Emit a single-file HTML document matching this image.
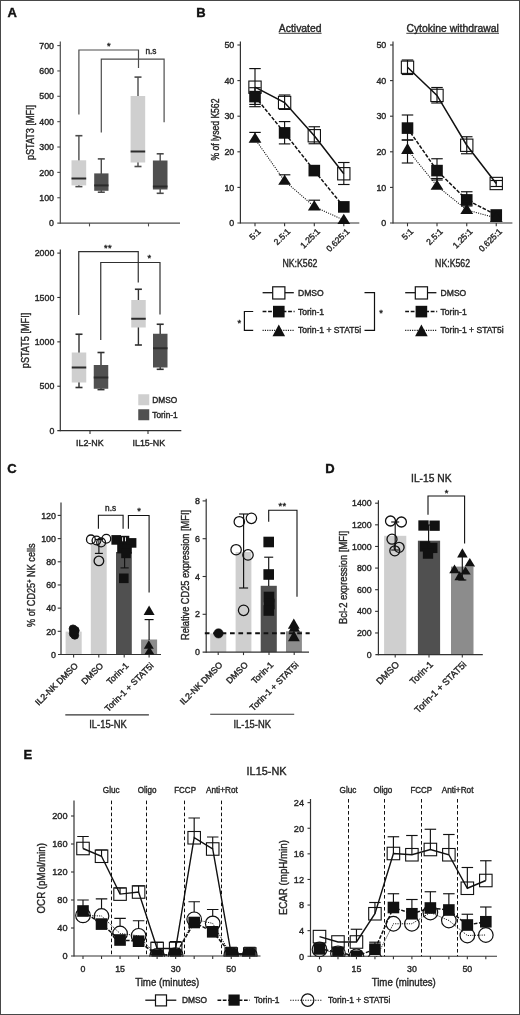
<!DOCTYPE html>
<html lang="en"><head><meta charset="utf-8"><title>Figure</title>
<style>html,body{margin:0;padding:0;background:#fff;}svg{display:block;will-change:transform;}text{font-family:"Liberation Sans", sans-serif;stroke-width:0.38px;paint-order:stroke;}</style></head><body>
<svg width="520" height="1015" viewBox="0 0 520 1015">
<rect x="0" y="0" width="520" height="1015" fill="#fff"/>
<g id="panelA">
<text x="7.50" y="16.60" font-size="13" text-anchor="start" font-weight="bold" fill="#111" stroke="#111">A</text>
<line x1="60.30" y1="41.50" x2="60.30" y2="223.70" stroke="#4c4c4c" stroke-width="1.2" stroke-linecap="butt"/>
<line x1="57.30" y1="223.10" x2="180.00" y2="223.10" stroke="#4c4c4c" stroke-width="1.2" stroke-linecap="butt"/>
<text x="54.00" y="226.25" font-size="8.8" text-anchor="end" fill="#262626" stroke="#262626">0</text>
<line x1="57.30" y1="197.74" x2="60.30" y2="197.74" stroke="#4c4c4c" stroke-width="1.1" stroke-linecap="butt"/>
<text x="54.00" y="200.89" font-size="8.8" text-anchor="end" fill="#262626" stroke="#262626">100</text>
<line x1="57.30" y1="172.38" x2="60.30" y2="172.38" stroke="#4c4c4c" stroke-width="1.1" stroke-linecap="butt"/>
<text x="54.00" y="175.53" font-size="8.8" text-anchor="end" fill="#262626" stroke="#262626">200</text>
<line x1="57.30" y1="147.02" x2="60.30" y2="147.02" stroke="#4c4c4c" stroke-width="1.1" stroke-linecap="butt"/>
<text x="54.00" y="150.17" font-size="8.8" text-anchor="end" fill="#262626" stroke="#262626">300</text>
<line x1="57.30" y1="121.66" x2="60.30" y2="121.66" stroke="#4c4c4c" stroke-width="1.1" stroke-linecap="butt"/>
<text x="54.00" y="124.81" font-size="8.8" text-anchor="end" fill="#262626" stroke="#262626">400</text>
<line x1="57.30" y1="96.30" x2="60.30" y2="96.30" stroke="#4c4c4c" stroke-width="1.1" stroke-linecap="butt"/>
<text x="54.00" y="99.45" font-size="8.8" text-anchor="end" fill="#262626" stroke="#262626">500</text>
<line x1="57.30" y1="70.94" x2="60.30" y2="70.94" stroke="#4c4c4c" stroke-width="1.1" stroke-linecap="butt"/>
<text x="54.00" y="74.09" font-size="8.8" text-anchor="end" fill="#262626" stroke="#262626">600</text>
<line x1="57.30" y1="45.58" x2="60.30" y2="45.58" stroke="#4c4c4c" stroke-width="1.1" stroke-linecap="butt"/>
<text x="54.00" y="48.73" font-size="8.8" text-anchor="end" fill="#262626" stroke="#262626">700</text>
<line x1="89.50" y1="223.10" x2="89.50" y2="226.40" stroke="#4c4c4c" stroke-width="1.1" stroke-linecap="butt"/>
<line x1="148.50" y1="223.10" x2="148.50" y2="226.40" stroke="#4c4c4c" stroke-width="1.1" stroke-linecap="butt"/>
<text x="0" y="0" font-size="10.5" text-anchor="middle" fill="#262626" stroke="#262626" transform="translate(33.60 132.50) rotate(-90)" textLength="55.20" lengthAdjust="spacingAndGlyphs">pSTAT3 [MFI]</text>
<line x1="78.90" y1="135.70" x2="78.90" y2="186.60" stroke="#4c4c4c" stroke-width="1.4" stroke-linecap="butt"/>
<line x1="75.40" y1="135.70" x2="82.40" y2="135.70" stroke="#4c4c4c" stroke-width="1.6" stroke-linecap="butt"/>
<line x1="75.40" y1="186.60" x2="82.40" y2="186.60" stroke="#4c4c4c" stroke-width="1.6" stroke-linecap="butt"/>
<rect x="71.50" y="160.30" width="14.70" height="25.10" fill="#cfcfcf" stroke="none" stroke-width="1"/>
<line x1="71.50" y1="178.50" x2="86.20" y2="178.50" stroke="#2c2c2c" stroke-width="2.0" stroke-linecap="butt"/>
<line x1="101.30" y1="158.90" x2="101.30" y2="192.20" stroke="#4c4c4c" stroke-width="1.4" stroke-linecap="butt"/>
<line x1="97.80" y1="158.90" x2="104.80" y2="158.90" stroke="#4c4c4c" stroke-width="1.6" stroke-linecap="butt"/>
<line x1="97.80" y1="192.20" x2="104.80" y2="192.20" stroke="#4c4c4c" stroke-width="1.6" stroke-linecap="butt"/>
<rect x="94.20" y="173.40" width="14.30" height="17.40" fill="#505050" stroke="none" stroke-width="1"/>
<line x1="94.20" y1="185.40" x2="108.50" y2="185.40" stroke="#2c2c2c" stroke-width="2.0" stroke-linecap="butt"/>
<line x1="138.00" y1="77.10" x2="138.00" y2="166.50" stroke="#4c4c4c" stroke-width="1.4" stroke-linecap="butt"/>
<line x1="134.50" y1="77.10" x2="141.50" y2="77.10" stroke="#4c4c4c" stroke-width="1.6" stroke-linecap="butt"/>
<line x1="134.50" y1="166.50" x2="141.50" y2="166.50" stroke="#4c4c4c" stroke-width="1.6" stroke-linecap="butt"/>
<rect x="130.60" y="96.00" width="14.60" height="66.50" fill="#cfcfcf" stroke="none" stroke-width="1"/>
<line x1="130.60" y1="151.50" x2="145.20" y2="151.50" stroke="#2c2c2c" stroke-width="2.0" stroke-linecap="butt"/>
<line x1="160.20" y1="153.80" x2="160.20" y2="193.30" stroke="#4c4c4c" stroke-width="1.4" stroke-linecap="butt"/>
<line x1="156.70" y1="153.80" x2="163.70" y2="153.80" stroke="#4c4c4c" stroke-width="1.6" stroke-linecap="butt"/>
<line x1="156.70" y1="193.30" x2="163.70" y2="193.30" stroke="#4c4c4c" stroke-width="1.6" stroke-linecap="butt"/>
<rect x="152.90" y="160.50" width="14.60" height="29.00" fill="#505050" stroke="none" stroke-width="1"/>
<line x1="152.90" y1="186.50" x2="167.50" y2="186.50" stroke="#2c2c2c" stroke-width="2.0" stroke-linecap="butt"/>
<polyline points="78.90,114.60 78.90,50.00 138.50,50.00 138.50,67.90" fill="none" stroke="#4c4c4c" stroke-width="1.2" stroke-linejoin="miter"/>
<polyline points="101.30,132.60 101.30,59.10 164.10,59.10 164.10,122.30" fill="none" stroke="#4c4c4c" stroke-width="1.2" stroke-linejoin="miter"/>
<text x="108.80" y="49.04" font-size="9.3" text-anchor="middle" fill="#262626" stroke="#262626" style="stroke-width:0.4px">*</text>
<text x="145.40" y="53.90" font-size="8.3" text-anchor="start" fill="#262626" stroke="#262626">n.s</text>
<line x1="60.30" y1="249.60" x2="60.30" y2="431.20" stroke="#303030" stroke-width="1.2" stroke-linecap="butt"/>
<line x1="57.30" y1="430.60" x2="181.30" y2="430.60" stroke="#303030" stroke-width="1.2" stroke-linecap="butt"/>
<text x="54.30" y="433.75" font-size="8.8" text-anchor="end" fill="#262626" stroke="#262626">0</text>
<line x1="57.30" y1="386.23" x2="60.30" y2="386.23" stroke="#303030" stroke-width="1.1" stroke-linecap="butt"/>
<text x="54.30" y="389.38" font-size="8.8" text-anchor="end" fill="#262626" stroke="#262626">500</text>
<line x1="57.30" y1="341.85" x2="60.30" y2="341.85" stroke="#303030" stroke-width="1.1" stroke-linecap="butt"/>
<text x="54.30" y="345.00" font-size="8.8" text-anchor="end" fill="#262626" stroke="#262626">1000</text>
<line x1="57.30" y1="297.48" x2="60.30" y2="297.48" stroke="#303030" stroke-width="1.1" stroke-linecap="butt"/>
<text x="54.30" y="300.63" font-size="8.8" text-anchor="end" fill="#262626" stroke="#262626">1500</text>
<line x1="57.30" y1="253.10" x2="60.30" y2="253.10" stroke="#303030" stroke-width="1.1" stroke-linecap="butt"/>
<text x="54.30" y="256.25" font-size="8.8" text-anchor="end" fill="#262626" stroke="#262626">2000</text>
<line x1="90.00" y1="430.60" x2="90.00" y2="433.90" stroke="#303030" stroke-width="1.1" stroke-linecap="butt"/>
<line x1="148.00" y1="430.60" x2="148.00" y2="433.90" stroke="#303030" stroke-width="1.1" stroke-linecap="butt"/>
<text x="0" y="0" font-size="10.5" text-anchor="middle" fill="#262626" stroke="#262626" transform="translate(28.70 340.50) rotate(-90)" textLength="55.40" lengthAdjust="spacingAndGlyphs">pSTAT5 [MFI]</text>
<line x1="79.00" y1="334.25" x2="79.00" y2="387.50" stroke="#303030" stroke-width="1.4" stroke-linecap="butt"/>
<line x1="75.50" y1="334.25" x2="82.50" y2="334.25" stroke="#303030" stroke-width="1.6" stroke-linecap="butt"/>
<line x1="75.50" y1="387.50" x2="82.50" y2="387.50" stroke="#303030" stroke-width="1.6" stroke-linecap="butt"/>
<rect x="71.75" y="352.50" width="14.50" height="30.00" fill="#cfcfcf" stroke="none" stroke-width="1"/>
<line x1="71.75" y1="367.50" x2="86.25" y2="367.50" stroke="#2c2c2c" stroke-width="2.0" stroke-linecap="butt"/>
<line x1="101.00" y1="352.50" x2="101.00" y2="389.60" stroke="#303030" stroke-width="1.4" stroke-linecap="butt"/>
<line x1="97.50" y1="352.50" x2="104.50" y2="352.50" stroke="#303030" stroke-width="1.6" stroke-linecap="butt"/>
<line x1="97.50" y1="389.60" x2="104.50" y2="389.60" stroke="#303030" stroke-width="1.6" stroke-linecap="butt"/>
<rect x="93.75" y="365.00" width="14.50" height="23.75" fill="#505050" stroke="none" stroke-width="1"/>
<line x1="93.75" y1="377.50" x2="108.25" y2="377.50" stroke="#2c2c2c" stroke-width="2.0" stroke-linecap="butt"/>
<line x1="138.40" y1="289.25" x2="138.40" y2="345.00" stroke="#303030" stroke-width="1.4" stroke-linecap="butt"/>
<line x1="134.90" y1="289.25" x2="141.90" y2="289.25" stroke="#303030" stroke-width="1.6" stroke-linecap="butt"/>
<line x1="134.90" y1="345.00" x2="141.90" y2="345.00" stroke="#303030" stroke-width="1.6" stroke-linecap="butt"/>
<rect x="131.25" y="300.00" width="14.50" height="27.50" fill="#cfcfcf" stroke="none" stroke-width="1"/>
<line x1="131.25" y1="318.75" x2="145.75" y2="318.75" stroke="#2c2c2c" stroke-width="2.0" stroke-linecap="butt"/>
<line x1="160.20" y1="324.25" x2="160.20" y2="369.30" stroke="#303030" stroke-width="1.4" stroke-linecap="butt"/>
<line x1="156.70" y1="324.25" x2="163.70" y2="324.25" stroke="#303030" stroke-width="1.6" stroke-linecap="butt"/>
<line x1="156.70" y1="369.30" x2="163.70" y2="369.30" stroke="#303030" stroke-width="1.6" stroke-linecap="butt"/>
<rect x="153.00" y="333.75" width="14.50" height="33.75" fill="#505050" stroke="none" stroke-width="1"/>
<line x1="153.00" y1="348.25" x2="167.50" y2="348.25" stroke="#2c2c2c" stroke-width="2.0" stroke-linecap="butt"/>
<polyline points="78.75,315.00 78.75,251.60 138.25,251.60 138.25,282.50" fill="none" stroke="#303030" stroke-width="1.2" stroke-linejoin="miter"/>
<polyline points="100.75,340.00 100.75,262.50 160.00,262.50 160.00,314.50" fill="none" stroke="#303030" stroke-width="1.2" stroke-linejoin="miter"/>
<text x="108.07" y="250.54" font-size="9.3" text-anchor="middle" fill="#262626" stroke="#262626" style="stroke-width:0.4px" letter-spacing="0.45">**</text>
<text x="149.30" y="261.34" font-size="9.3" text-anchor="middle" fill="#262626" stroke="#262626" style="stroke-width:0.4px">*</text>
<rect x="138.25" y="394.25" width="11.00" height="11.00" fill="#cfcfcf" stroke="none" stroke-width="1"/>
<rect x="138.25" y="409.25" width="11.00" height="11.00" fill="#505050" stroke="none" stroke-width="1"/>
<text x="152.30" y="402.57" font-size="8.3" text-anchor="start" fill="#262626" stroke="#262626">DMSO</text>
<text x="152.30" y="417.57" font-size="8.3" text-anchor="start" fill="#262626" stroke="#262626">Torin-1</text>
<text x="89.80" y="445.69" font-size="8.9" text-anchor="middle" fill="#262626" stroke="#262626">IL2-NK</text>
<text x="148.80" y="445.69" font-size="8.9" text-anchor="middle" fill="#262626" stroke="#262626">IL15-NK</text>
</g>
<g id="panelB">
<text x="196.30" y="16.70" font-size="13" text-anchor="start" font-weight="bold" fill="#111" stroke="#111">B</text>
<text x="300.20" y="31.80" font-size="10.4" text-anchor="middle" fill="#262626" stroke="#262626">Activated</text>
<line x1="278.80" y1="33.30" x2="321.60" y2="33.30" stroke="#262626" stroke-width="0.9" stroke-linecap="butt"/>
<text x="452.60" y="31.80" font-size="10.4" text-anchor="middle" fill="#262626" stroke="#262626">Cytokine withdrawal</text>
<line x1="406.30" y1="33.30" x2="499.00" y2="33.30" stroke="#262626" stroke-width="0.9" stroke-linecap="butt"/>
<text x="0" y="0" font-size="10" text-anchor="middle" fill="#262626" stroke="#262626" transform="translate(218.70 129.60) rotate(-90)" textLength="62.00" lengthAdjust="spacingAndGlyphs">% of lysed K562</text>
<line x1="240.40" y1="41.50" x2="240.40" y2="223.60" stroke="#333" stroke-width="1.2" stroke-linecap="butt"/>
<line x1="237.40" y1="223.00" x2="359.30" y2="223.00" stroke="#333" stroke-width="1.2" stroke-linecap="butt"/>
<text x="234.30" y="226.19" font-size="8.9" text-anchor="end" fill="#262626" stroke="#262626">0</text>
<line x1="237.40" y1="187.40" x2="240.40" y2="187.40" stroke="#333" stroke-width="1.1" stroke-linecap="butt"/>
<text x="234.30" y="190.59" font-size="8.9" text-anchor="end" fill="#262626" stroke="#262626">10</text>
<line x1="237.40" y1="151.80" x2="240.40" y2="151.80" stroke="#333" stroke-width="1.1" stroke-linecap="butt"/>
<text x="234.30" y="154.99" font-size="8.9" text-anchor="end" fill="#262626" stroke="#262626">20</text>
<line x1="237.40" y1="116.20" x2="240.40" y2="116.20" stroke="#333" stroke-width="1.1" stroke-linecap="butt"/>
<text x="234.30" y="119.39" font-size="8.9" text-anchor="end" fill="#262626" stroke="#262626">30</text>
<line x1="237.40" y1="80.60" x2="240.40" y2="80.60" stroke="#333" stroke-width="1.1" stroke-linecap="butt"/>
<text x="234.30" y="83.79" font-size="8.9" text-anchor="end" fill="#262626" stroke="#262626">40</text>
<line x1="237.40" y1="45.00" x2="240.40" y2="45.00" stroke="#333" stroke-width="1.1" stroke-linecap="butt"/>
<text x="234.30" y="48.19" font-size="8.9" text-anchor="end" fill="#262626" stroke="#262626">50</text>
<line x1="255.00" y1="223.00" x2="255.00" y2="226.30" stroke="#333" stroke-width="1.1" stroke-linecap="butt"/>
<line x1="284.60" y1="223.00" x2="284.60" y2="226.30" stroke="#333" stroke-width="1.1" stroke-linecap="butt"/>
<line x1="314.30" y1="223.00" x2="314.30" y2="226.30" stroke="#333" stroke-width="1.1" stroke-linecap="butt"/>
<line x1="343.80" y1="223.00" x2="343.80" y2="226.30" stroke="#333" stroke-width="1.1" stroke-linecap="butt"/>
<text x="261.30" y="232.00" font-size="8.6" text-anchor="end" fill="#262626" stroke="#262626" transform="rotate(-45 261.30 232.00)">5:1</text>
<text x="290.90" y="232.00" font-size="8.6" text-anchor="end" fill="#262626" stroke="#262626" transform="rotate(-45 290.90 232.00)">2.5:1</text>
<text x="320.60" y="232.00" font-size="8.6" text-anchor="end" fill="#262626" stroke="#262626" transform="rotate(-45 320.60 232.00)">1.25:1</text>
<text x="350.10" y="232.00" font-size="8.6" text-anchor="end" fill="#262626" stroke="#262626" transform="rotate(-45 350.10 232.00)">0.625:1</text>
<line x1="255.00" y1="68.60" x2="255.00" y2="104.40" stroke="#111" stroke-width="1.15" stroke-linecap="butt"/>
<line x1="249.25" y1="68.60" x2="260.75" y2="68.60" stroke="#111" stroke-width="1.15" stroke-linecap="butt"/>
<line x1="249.25" y1="104.40" x2="260.75" y2="104.40" stroke="#111" stroke-width="1.15" stroke-linecap="butt"/>
<line x1="284.60" y1="95.00" x2="284.60" y2="109.40" stroke="#111" stroke-width="1.15" stroke-linecap="butt"/>
<line x1="278.85" y1="95.00" x2="290.35" y2="95.00" stroke="#111" stroke-width="1.15" stroke-linecap="butt"/>
<line x1="278.85" y1="109.40" x2="290.35" y2="109.40" stroke="#111" stroke-width="1.15" stroke-linecap="butt"/>
<line x1="314.30" y1="126.75" x2="314.30" y2="143.75" stroke="#111" stroke-width="1.15" stroke-linecap="butt"/>
<line x1="308.55" y1="126.75" x2="320.05" y2="126.75" stroke="#111" stroke-width="1.15" stroke-linecap="butt"/>
<line x1="308.55" y1="143.75" x2="320.05" y2="143.75" stroke="#111" stroke-width="1.15" stroke-linecap="butt"/>
<line x1="343.80" y1="162.50" x2="343.80" y2="184.50" stroke="#111" stroke-width="1.15" stroke-linecap="butt"/>
<line x1="338.05" y1="162.50" x2="349.55" y2="162.50" stroke="#111" stroke-width="1.15" stroke-linecap="butt"/>
<line x1="338.05" y1="184.50" x2="349.55" y2="184.50" stroke="#111" stroke-width="1.15" stroke-linecap="butt"/>
<polyline points="255.00,87.20 284.60,102.50 314.30,135.75 343.80,173.75" fill="none" stroke="#111" stroke-width="1.5" stroke-linejoin="miter"/>
<rect x="248.85" y="81.05" width="12.30" height="12.30" fill="none" stroke="#111" stroke-width="1.1"/>
<rect x="278.45" y="96.35" width="12.30" height="12.30" fill="none" stroke="#111" stroke-width="1.1"/>
<rect x="308.15" y="129.60" width="12.30" height="12.30" fill="none" stroke="#111" stroke-width="1.1"/>
<rect x="337.65" y="167.60" width="12.30" height="12.30" fill="none" stroke="#111" stroke-width="1.1"/>
<line x1="255.00" y1="87.70" x2="255.00" y2="106.70" stroke="#111" stroke-width="1.15" stroke-linecap="butt"/>
<line x1="249.25" y1="87.70" x2="260.75" y2="87.70" stroke="#111" stroke-width="1.15" stroke-linecap="butt"/>
<line x1="249.25" y1="106.70" x2="260.75" y2="106.70" stroke="#111" stroke-width="1.15" stroke-linecap="butt"/>
<line x1="284.60" y1="121.60" x2="284.60" y2="143.90" stroke="#111" stroke-width="1.15" stroke-linecap="butt"/>
<line x1="278.85" y1="121.60" x2="290.35" y2="121.60" stroke="#111" stroke-width="1.15" stroke-linecap="butt"/>
<line x1="278.85" y1="143.90" x2="290.35" y2="143.90" stroke="#111" stroke-width="1.15" stroke-linecap="butt"/>
<polyline points="255.00,96.60 284.60,132.90 314.30,170.60 343.80,206.90" fill="none" stroke="#111" stroke-width="1.5" stroke-dasharray="3.7 1.6" stroke-linejoin="miter"/>
<rect x="249.20" y="90.80" width="11.60" height="11.60" fill="#111" stroke="none" stroke-width="1"/>
<rect x="278.80" y="127.10" width="11.60" height="11.60" fill="#111" stroke="none" stroke-width="1"/>
<rect x="308.50" y="164.80" width="11.60" height="11.60" fill="#111" stroke="none" stroke-width="1"/>
<rect x="338.00" y="201.10" width="11.60" height="11.60" fill="#111" stroke="none" stroke-width="1"/>
<line x1="255.00" y1="132.40" x2="255.00" y2="138.00" stroke="#111" stroke-width="1.15" stroke-linecap="butt"/>
<line x1="249.25" y1="132.40" x2="260.75" y2="132.40" stroke="#111" stroke-width="1.15" stroke-linecap="butt"/>
<line x1="284.60" y1="174.80" x2="284.60" y2="180.00" stroke="#111" stroke-width="1.15" stroke-linecap="butt"/>
<line x1="278.85" y1="174.80" x2="290.35" y2="174.80" stroke="#111" stroke-width="1.15" stroke-linecap="butt"/>
<line x1="314.30" y1="200.20" x2="314.30" y2="205.00" stroke="#111" stroke-width="1.15" stroke-linecap="butt"/>
<line x1="308.55" y1="200.20" x2="320.05" y2="200.20" stroke="#111" stroke-width="1.15" stroke-linecap="butt"/>
<polyline points="255.00,138.92 284.60,181.00 314.30,206.65 343.80,220.06" fill="none" stroke="#111" stroke-width="1.05" stroke-dasharray="1.1 1.2" stroke-linejoin="miter"/>
<polygon points="255.00,132.60 261.40,142.80 248.60,142.80" fill="#111"/>
<polygon points="284.60,174.80 291.00,184.80 278.20,184.80" fill="#111"/>
<polygon points="314.30,200.20 320.70,210.60 307.90,210.60" fill="#111"/>
<polygon points="343.80,213.80 350.20,223.90 337.40,223.90" fill="#111"/>
<line x1="393.00" y1="41.50" x2="393.00" y2="223.60" stroke="#333" stroke-width="1.2" stroke-linecap="butt"/>
<line x1="390.00" y1="223.00" x2="512.40" y2="223.00" stroke="#333" stroke-width="1.2" stroke-linecap="butt"/>
<text x="386.30" y="226.19" font-size="8.9" text-anchor="end" fill="#262626" stroke="#262626">0</text>
<line x1="390.00" y1="187.40" x2="393.00" y2="187.40" stroke="#333" stroke-width="1.1" stroke-linecap="butt"/>
<text x="386.30" y="190.59" font-size="8.9" text-anchor="end" fill="#262626" stroke="#262626">10</text>
<line x1="390.00" y1="151.80" x2="393.00" y2="151.80" stroke="#333" stroke-width="1.1" stroke-linecap="butt"/>
<text x="386.30" y="154.99" font-size="8.9" text-anchor="end" fill="#262626" stroke="#262626">20</text>
<line x1="390.00" y1="116.20" x2="393.00" y2="116.20" stroke="#333" stroke-width="1.1" stroke-linecap="butt"/>
<text x="386.30" y="119.39" font-size="8.9" text-anchor="end" fill="#262626" stroke="#262626">30</text>
<line x1="390.00" y1="80.60" x2="393.00" y2="80.60" stroke="#333" stroke-width="1.1" stroke-linecap="butt"/>
<text x="386.30" y="83.79" font-size="8.9" text-anchor="end" fill="#262626" stroke="#262626">40</text>
<line x1="390.00" y1="45.00" x2="393.00" y2="45.00" stroke="#333" stroke-width="1.1" stroke-linecap="butt"/>
<text x="386.30" y="48.19" font-size="8.9" text-anchor="end" fill="#262626" stroke="#262626">50</text>
<line x1="407.50" y1="223.00" x2="407.50" y2="226.30" stroke="#333" stroke-width="1.1" stroke-linecap="butt"/>
<line x1="437.00" y1="223.00" x2="437.00" y2="226.30" stroke="#333" stroke-width="1.1" stroke-linecap="butt"/>
<line x1="466.75" y1="223.00" x2="466.75" y2="226.30" stroke="#333" stroke-width="1.1" stroke-linecap="butt"/>
<line x1="496.25" y1="223.00" x2="496.25" y2="226.30" stroke="#333" stroke-width="1.1" stroke-linecap="butt"/>
<text x="413.80" y="232.00" font-size="8.6" text-anchor="end" fill="#262626" stroke="#262626" transform="rotate(-45 413.80 232.00)">5:1</text>
<text x="443.30" y="232.00" font-size="8.6" text-anchor="end" fill="#262626" stroke="#262626" transform="rotate(-45 443.30 232.00)">2.5:1</text>
<text x="473.05" y="232.00" font-size="8.6" text-anchor="end" fill="#262626" stroke="#262626" transform="rotate(-45 473.05 232.00)">1.25:1</text>
<text x="502.55" y="232.00" font-size="8.6" text-anchor="end" fill="#262626" stroke="#262626" transform="rotate(-45 502.55 232.00)">0.625:1</text>
<line x1="407.50" y1="60.00" x2="407.50" y2="74.50" stroke="#111" stroke-width="1.15" stroke-linecap="butt"/>
<line x1="401.75" y1="60.00" x2="413.25" y2="60.00" stroke="#111" stroke-width="1.15" stroke-linecap="butt"/>
<line x1="401.75" y1="74.50" x2="413.25" y2="74.50" stroke="#111" stroke-width="1.15" stroke-linecap="butt"/>
<line x1="437.00" y1="87.50" x2="437.00" y2="103.00" stroke="#111" stroke-width="1.15" stroke-linecap="butt"/>
<line x1="431.25" y1="87.50" x2="442.75" y2="87.50" stroke="#111" stroke-width="1.15" stroke-linecap="butt"/>
<line x1="431.25" y1="103.00" x2="442.75" y2="103.00" stroke="#111" stroke-width="1.15" stroke-linecap="butt"/>
<line x1="466.75" y1="136.75" x2="466.75" y2="153.75" stroke="#111" stroke-width="1.15" stroke-linecap="butt"/>
<line x1="461.00" y1="136.75" x2="472.50" y2="136.75" stroke="#111" stroke-width="1.15" stroke-linecap="butt"/>
<line x1="461.00" y1="153.75" x2="472.50" y2="153.75" stroke="#111" stroke-width="1.15" stroke-linecap="butt"/>
<line x1="496.25" y1="180.50" x2="496.25" y2="186.50" stroke="#111" stroke-width="1.15" stroke-linecap="butt"/>
<line x1="490.50" y1="180.50" x2="502.00" y2="180.50" stroke="#111" stroke-width="1.15" stroke-linecap="butt"/>
<line x1="490.50" y1="186.50" x2="502.00" y2="186.50" stroke="#111" stroke-width="1.15" stroke-linecap="butt"/>
<polyline points="407.50,67.25 437.00,95.40 466.75,145.25 496.25,183.50" fill="none" stroke="#111" stroke-width="1.5" stroke-linejoin="miter"/>
<rect x="401.35" y="61.10" width="12.30" height="12.30" fill="none" stroke="#111" stroke-width="1.1"/>
<rect x="430.85" y="89.25" width="12.30" height="12.30" fill="none" stroke="#111" stroke-width="1.1"/>
<rect x="460.60" y="139.10" width="12.30" height="12.30" fill="none" stroke="#111" stroke-width="1.1"/>
<rect x="490.10" y="177.35" width="12.30" height="12.30" fill="none" stroke="#111" stroke-width="1.1"/>
<line x1="407.50" y1="115.00" x2="407.50" y2="140.00" stroke="#111" stroke-width="1.15" stroke-linecap="butt"/>
<line x1="401.75" y1="115.00" x2="413.25" y2="115.00" stroke="#111" stroke-width="1.15" stroke-linecap="butt"/>
<line x1="401.75" y1="140.00" x2="413.25" y2="140.00" stroke="#111" stroke-width="1.15" stroke-linecap="butt"/>
<line x1="437.00" y1="158.75" x2="437.00" y2="180.00" stroke="#111" stroke-width="1.15" stroke-linecap="butt"/>
<line x1="431.25" y1="158.75" x2="442.75" y2="158.75" stroke="#111" stroke-width="1.15" stroke-linecap="butt"/>
<line x1="431.25" y1="180.00" x2="442.75" y2="180.00" stroke="#111" stroke-width="1.15" stroke-linecap="butt"/>
<line x1="466.75" y1="191.75" x2="466.75" y2="206.00" stroke="#111" stroke-width="1.15" stroke-linecap="butt"/>
<line x1="461.00" y1="191.75" x2="472.50" y2="191.75" stroke="#111" stroke-width="1.15" stroke-linecap="butt"/>
<line x1="461.00" y1="206.00" x2="472.50" y2="206.00" stroke="#111" stroke-width="1.15" stroke-linecap="butt"/>
<polyline points="407.50,128.10 437.00,170.60 466.75,199.90 496.25,215.00" fill="none" stroke="#111" stroke-width="1.5" stroke-dasharray="3.7 1.6" stroke-linejoin="miter"/>
<rect x="401.70" y="122.30" width="11.60" height="11.60" fill="#111" stroke="none" stroke-width="1"/>
<rect x="431.20" y="164.80" width="11.60" height="11.60" fill="#111" stroke="none" stroke-width="1"/>
<rect x="460.95" y="194.10" width="11.60" height="11.60" fill="#111" stroke="none" stroke-width="1"/>
<rect x="490.45" y="209.20" width="11.60" height="11.60" fill="#111" stroke="none" stroke-width="1"/>
<line x1="407.50" y1="140.00" x2="407.50" y2="163.00" stroke="#111" stroke-width="1.15" stroke-linecap="butt"/>
<line x1="401.75" y1="140.00" x2="413.25" y2="140.00" stroke="#111" stroke-width="1.15" stroke-linecap="butt"/>
<line x1="401.75" y1="163.00" x2="413.25" y2="163.00" stroke="#111" stroke-width="1.15" stroke-linecap="butt"/>
<line x1="437.00" y1="178.50" x2="437.00" y2="183.00" stroke="#111" stroke-width="1.15" stroke-linecap="butt"/>
<line x1="431.25" y1="178.50" x2="442.75" y2="178.50" stroke="#111" stroke-width="1.15" stroke-linecap="butt"/>
<line x1="466.75" y1="201.50" x2="466.75" y2="206.00" stroke="#111" stroke-width="1.15" stroke-linecap="butt"/>
<line x1="461.00" y1="201.50" x2="472.50" y2="201.50" stroke="#111" stroke-width="1.15" stroke-linecap="butt"/>
<polyline points="407.50,149.76 437.00,185.96 466.75,209.91 496.25,218.05" fill="none" stroke="#111" stroke-width="1.05" stroke-dasharray="1.1 1.2" stroke-linejoin="miter"/>
<polygon points="407.50,143.00 413.90,153.90 401.10,153.90" fill="#111"/>
<polygon points="437.00,179.70 443.40,189.80 430.60,189.80" fill="#111"/>
<polygon points="466.75,203.40 473.15,213.90 460.35,213.90" fill="#111"/>
<polygon points="496.25,211.60 502.65,222.00 489.85,222.00" fill="#111"/>
<text x="299.90" y="267.19" font-size="10.3" text-anchor="middle" fill="#262626" stroke="#262626" textLength="35.00" lengthAdjust="spacingAndGlyphs">NK:K562</text>
<text x="452.60" y="267.19" font-size="10.3" text-anchor="middle" fill="#262626" stroke="#262626" textLength="35.00" lengthAdjust="spacingAndGlyphs">NK:K562</text>
<line x1="262.60" y1="292.70" x2="293.80" y2="292.70" stroke="#111" stroke-width="1.3" stroke-linecap="butt"/>
<rect x="272.70" y="286.80" width="12.20" height="12.20" fill="#fff" stroke="#111" stroke-width="1.2"/>
<line x1="262.60" y1="311.50" x2="277.60" y2="311.50" stroke="#111" stroke-width="1.4" stroke-dasharray="3.8 1.7" stroke-linecap="butt"/>
<line x1="282.60" y1="311.50" x2="294.60" y2="311.50" stroke="#111" stroke-width="1.4" stroke-dasharray="3.8 1.7" stroke-linecap="butt"/>
<rect x="273.00" y="305.80" width="11.60" height="11.60" fill="#111" stroke="none" stroke-width="1"/>
<line x1="262.60" y1="330.40" x2="294.30" y2="330.40" stroke="#111" stroke-width="1.1" stroke-dasharray="1.1 1.2" stroke-linecap="butt"/>
<polygon points="278.80,324.60 285.10,336.20 272.50,336.20" fill="#111"/>
<text x="298.00" y="295.76" font-size="8.55" text-anchor="start" fill="#262626" stroke="#262626">DMSO</text>
<text x="298.00" y="314.56" font-size="8.55" text-anchor="start" fill="#262626" stroke="#262626">Torin-1</text>
<text x="298.00" y="333.46" font-size="8.55" text-anchor="start" fill="#262626" stroke="#262626">Torin-1 + STAT5i</text>
<line x1="405.20" y1="292.70" x2="436.40" y2="292.70" stroke="#111" stroke-width="1.3" stroke-linecap="butt"/>
<rect x="415.30" y="286.80" width="12.20" height="12.20" fill="#fff" stroke="#111" stroke-width="1.2"/>
<line x1="405.20" y1="311.50" x2="420.20" y2="311.50" stroke="#111" stroke-width="1.4" stroke-dasharray="3.8 1.7" stroke-linecap="butt"/>
<line x1="425.20" y1="311.50" x2="437.20" y2="311.50" stroke="#111" stroke-width="1.4" stroke-dasharray="3.8 1.7" stroke-linecap="butt"/>
<rect x="415.60" y="305.80" width="11.60" height="11.60" fill="#111" stroke="none" stroke-width="1"/>
<line x1="405.20" y1="330.40" x2="436.90" y2="330.40" stroke="#111" stroke-width="1.1" stroke-dasharray="1.1 1.2" stroke-linecap="butt"/>
<polygon points="421.40,324.60 427.70,336.20 415.10,336.20" fill="#111"/>
<text x="440.60" y="295.76" font-size="8.55" text-anchor="start" fill="#262626" stroke="#262626">DMSO</text>
<text x="440.60" y="314.56" font-size="8.55" text-anchor="start" fill="#262626" stroke="#262626">Torin-1</text>
<text x="440.60" y="333.46" font-size="8.55" text-anchor="start" fill="#262626" stroke="#262626">Torin-1 + STAT5i</text>
<polyline points="253.20,311.50 244.40,311.50 244.40,330.40 253.20,330.40" fill="none" stroke="#111" stroke-width="1.2" stroke-linejoin="miter"/>
<text x="239.30" y="326.04" font-size="9.3" text-anchor="middle" fill="#262626" stroke="#262626" style="stroke-width:0.4px">*</text>
<polyline points="364.50,292.70 374.50,292.70 374.50,330.40 364.50,330.40" fill="none" stroke="#111" stroke-width="1.2" stroke-linejoin="miter"/>
<text x="381.00" y="315.84" font-size="9.3" text-anchor="middle" fill="#262626" stroke="#262626" style="stroke-width:0.4px">*</text>
</g>
<g id="panelC">
<text x="7.20" y="473.00" font-size="13" text-anchor="start" font-weight="bold" fill="#111" stroke="#111">C</text>
<rect x="65.60" y="631.60" width="16.10" height="22.90" fill="#cfcfcf" stroke="none" stroke-width="1"/>
<rect x="90.80" y="543.40" width="15.90" height="111.10" fill="#cfcfcf" stroke="none" stroke-width="1"/>
<rect x="116.00" y="552.00" width="15.80" height="102.50" fill="#505050" stroke="none" stroke-width="1"/>
<rect x="141.10" y="639.50" width="16.00" height="15.00" fill="#8c8c8c" stroke="none" stroke-width="1"/>
<line x1="61.00" y1="502.50" x2="61.00" y2="655.10" stroke="#333" stroke-width="1.2" stroke-linecap="butt"/>
<line x1="58.00" y1="654.50" x2="161.00" y2="654.50" stroke="#333" stroke-width="1.2" stroke-linecap="butt"/>
<text x="56.00" y="657.69" font-size="8.9" text-anchor="end" fill="#262626" stroke="#262626">0</text>
<line x1="57.70" y1="631.32" x2="61.00" y2="631.32" stroke="#333" stroke-width="1.1" stroke-linecap="butt"/>
<text x="56.00" y="634.51" font-size="8.9" text-anchor="end" fill="#262626" stroke="#262626">20</text>
<line x1="57.70" y1="608.14" x2="61.00" y2="608.14" stroke="#333" stroke-width="1.1" stroke-linecap="butt"/>
<text x="56.00" y="611.33" font-size="8.9" text-anchor="end" fill="#262626" stroke="#262626">40</text>
<line x1="57.70" y1="584.96" x2="61.00" y2="584.96" stroke="#333" stroke-width="1.1" stroke-linecap="butt"/>
<text x="56.00" y="588.15" font-size="8.9" text-anchor="end" fill="#262626" stroke="#262626">60</text>
<line x1="57.70" y1="561.78" x2="61.00" y2="561.78" stroke="#333" stroke-width="1.1" stroke-linecap="butt"/>
<text x="56.00" y="564.97" font-size="8.9" text-anchor="end" fill="#262626" stroke="#262626">80</text>
<line x1="57.70" y1="538.60" x2="61.00" y2="538.60" stroke="#333" stroke-width="1.1" stroke-linecap="butt"/>
<text x="56.00" y="541.79" font-size="8.9" text-anchor="end" fill="#262626" stroke="#262626">100</text>
<line x1="57.70" y1="515.42" x2="61.00" y2="515.42" stroke="#333" stroke-width="1.1" stroke-linecap="butt"/>
<text x="56.00" y="518.61" font-size="8.9" text-anchor="end" fill="#262626" stroke="#262626">120</text>
<line x1="73.60" y1="654.50" x2="73.60" y2="657.50" stroke="#333" stroke-width="1.1" stroke-linecap="butt"/>
<line x1="98.80" y1="654.50" x2="98.80" y2="657.50" stroke="#333" stroke-width="1.1" stroke-linecap="butt"/>
<line x1="124.20" y1="654.50" x2="124.20" y2="657.50" stroke="#333" stroke-width="1.1" stroke-linecap="butt"/>
<line x1="149.10" y1="654.50" x2="149.10" y2="657.50" stroke="#333" stroke-width="1.1" stroke-linecap="butt"/>
<text x="0" y="0" font-size="10.3" text-anchor="middle" fill="#262626" stroke="#262626" transform="translate(34.90 585.20) rotate(-90)" textLength="83.60" lengthAdjust="spacingAndGlyphs">% of CD25<tspan dy="-3.2" font-size="6.5">+</tspan><tspan dy="3.2"> NK cells</tspan></text>
<circle cx="73.00" cy="628.80" r="3.90" fill="#111" stroke="#111" stroke-width="0.8"/>
<circle cx="75.30" cy="630.50" r="3.90" fill="#111" stroke="#111" stroke-width="0.8"/>
<circle cx="73.20" cy="633.50" r="3.90" fill="#111" stroke="#111" stroke-width="0.8"/>
<circle cx="74.80" cy="635.30" r="3.90" fill="#111" stroke="#111" stroke-width="0.8"/>
<circle cx="74.00" cy="631.50" r="3.90" fill="#111" stroke="#111" stroke-width="0.8"/>
<line x1="98.90" y1="539.50" x2="98.90" y2="553.40" stroke="#111" stroke-width="1.15" stroke-linecap="butt"/>
<line x1="94.90" y1="539.50" x2="102.90" y2="539.50" stroke="#111" stroke-width="1.15" stroke-linecap="butt"/>
<line x1="94.90" y1="553.40" x2="102.90" y2="553.40" stroke="#111" stroke-width="1.15" stroke-linecap="butt"/>
<circle cx="90.90" cy="539.40" r="4.40" fill="none" stroke="#111" stroke-width="1.3"/>
<circle cx="96.50" cy="540.50" r="4.40" fill="none" stroke="#111" stroke-width="1.3"/>
<circle cx="101.10" cy="542.40" r="4.40" fill="none" stroke="#111" stroke-width="1.3"/>
<circle cx="106.30" cy="538.80" r="4.40" fill="none" stroke="#111" stroke-width="1.3"/>
<circle cx="98.90" cy="560.90" r="4.80" fill="none" stroke="#111" stroke-width="1.3"/>
<line x1="124.60" y1="541.00" x2="124.60" y2="567.90" stroke="#111" stroke-width="1.15" stroke-linecap="butt"/>
<line x1="120.50" y1="541.00" x2="128.70" y2="541.00" stroke="#111" stroke-width="1.15" stroke-linecap="butt"/>
<line x1="120.50" y1="567.90" x2="128.70" y2="567.90" stroke="#111" stroke-width="1.15" stroke-linecap="butt"/>
<rect x="111.40" y="535.10" width="9.60" height="9.60" fill="#111" stroke="none" stroke-width="1"/>
<rect x="119.70" y="535.80" width="9.60" height="9.60" fill="#111" stroke="none" stroke-width="1"/>
<rect x="126.80" y="538.10" width="9.60" height="9.60" fill="#111" stroke="none" stroke-width="1"/>
<rect x="117.20" y="543.80" width="9.60" height="9.60" fill="#111" stroke="none" stroke-width="1"/>
<rect x="122.20" y="544.10" width="9.60" height="9.60" fill="#111" stroke="none" stroke-width="1"/>
<rect x="121.20" y="548.60" width="9.60" height="9.60" fill="#111" stroke="none" stroke-width="1"/>
<rect x="119.00" y="573.50" width="9.60" height="9.60" fill="#111" stroke="none" stroke-width="1"/>
<line x1="122.60" y1="537.30" x2="122.60" y2="541.30" stroke="#fff" stroke-width="0.9" stroke-linecap="butt"/>
<line x1="125.50" y1="537.30" x2="125.50" y2="541.30" stroke="#fff" stroke-width="0.9" stroke-linecap="butt"/>
<line x1="149.10" y1="619.60" x2="149.10" y2="640.00" stroke="#111" stroke-width="1.15" stroke-linecap="butt"/>
<line x1="144.60" y1="619.60" x2="153.60" y2="619.60" stroke="#111" stroke-width="1.15" stroke-linecap="butt"/>
<polygon points="149.10,605.40 154.60,615.00 143.60,615.00" fill="#111"/>
<polygon points="148.80,640.30 153.80,648.80 143.80,648.80" fill="#111"/>
<polygon points="149.40,646.60 154.40,654.50 144.40,654.50" fill="#111"/>
<polyline points="98.40,528.80 98.40,515.20 123.10,515.20 123.10,528.80" fill="none" stroke="#111" stroke-width="1.1" stroke-linejoin="miter"/>
<polyline points="128.40,528.80 128.40,515.50 149.10,515.50 149.10,592.60" fill="none" stroke="#111" stroke-width="1.1" stroke-linejoin="miter"/>
<text x="110.60" y="511.27" font-size="8.3" text-anchor="middle" fill="#262626" stroke="#262626">n.s</text>
<text x="139.00" y="514.24" font-size="9.3" text-anchor="middle" fill="#262626" stroke="#262626" style="stroke-width:0.4px">*</text>
<text x="78.60" y="666.30" font-size="8.8" text-anchor="end" fill="#262626" stroke="#262626" transform="rotate(-45 78.60 666.30)">IL2-NK DMSO</text>
<text x="103.80" y="666.30" font-size="8.8" text-anchor="end" fill="#262626" stroke="#262626" transform="rotate(-45 103.80 666.30)">DMSO</text>
<text x="129.20" y="666.30" font-size="8.8" text-anchor="end" fill="#262626" stroke="#262626" transform="rotate(-45 129.20 666.30)">Torin-1</text>
<text x="154.10" y="666.30" font-size="8.8" text-anchor="end" fill="#262626" stroke="#262626" transform="rotate(-45 154.10 666.30)">Torin-1 + STAT5i</text>
<line x1="65.30" y1="714.90" x2="148.90" y2="714.90" stroke="#333" stroke-width="1.1" stroke-linecap="butt"/>
<text x="108.00" y="728.26" font-size="10.5" text-anchor="middle" fill="#262626" stroke="#262626" textLength="37.50" lengthAdjust="spacingAndGlyphs">IL-15-NK</text>
<rect x="210.20" y="633.40" width="16.10" height="18.70" fill="#cfcfcf" stroke="none" stroke-width="1"/>
<rect x="235.60" y="552.00" width="15.80" height="100.10" fill="#cfcfcf" stroke="none" stroke-width="1"/>
<rect x="260.70" y="585.80" width="16.10" height="66.30" fill="#505050" stroke="none" stroke-width="1"/>
<rect x="286.00" y="631.30" width="15.90" height="20.80" fill="#8c8c8c" stroke="none" stroke-width="1"/>
<line x1="206.20" y1="498.70" x2="206.20" y2="652.70" stroke="#333" stroke-width="1.2" stroke-linecap="butt"/>
<line x1="202.60" y1="652.10" x2="309.00" y2="652.10" stroke="#333" stroke-width="1.2" stroke-linecap="butt"/>
<text x="200.00" y="655.29" font-size="8.9" text-anchor="end" fill="#262626" stroke="#262626">0</text>
<line x1="202.60" y1="614.30" x2="206.20" y2="614.30" stroke="#333" stroke-width="1.1" stroke-linecap="butt"/>
<text x="200.00" y="617.49" font-size="8.9" text-anchor="end" fill="#262626" stroke="#262626">2</text>
<line x1="202.60" y1="576.50" x2="206.20" y2="576.50" stroke="#333" stroke-width="1.1" stroke-linecap="butt"/>
<text x="200.00" y="579.69" font-size="8.9" text-anchor="end" fill="#262626" stroke="#262626">4</text>
<line x1="202.60" y1="538.70" x2="206.20" y2="538.70" stroke="#333" stroke-width="1.1" stroke-linecap="butt"/>
<text x="200.00" y="541.89" font-size="8.9" text-anchor="end" fill="#262626" stroke="#262626">6</text>
<line x1="202.60" y1="500.90" x2="206.20" y2="500.90" stroke="#333" stroke-width="1.1" stroke-linecap="butt"/>
<text x="200.00" y="504.09" font-size="8.9" text-anchor="end" fill="#262626" stroke="#262626">8</text>
<line x1="218.20" y1="652.10" x2="218.20" y2="655.10" stroke="#333" stroke-width="1.1" stroke-linecap="butt"/>
<line x1="243.50" y1="652.10" x2="243.50" y2="655.10" stroke="#333" stroke-width="1.1" stroke-linecap="butt"/>
<line x1="269.00" y1="652.10" x2="269.00" y2="655.10" stroke="#333" stroke-width="1.1" stroke-linecap="butt"/>
<line x1="294.20" y1="652.10" x2="294.20" y2="655.10" stroke="#333" stroke-width="1.1" stroke-linecap="butt"/>
<text x="0" y="0" font-size="10.3" text-anchor="middle" fill="#262626" stroke="#262626" transform="translate(188.60 575.00) rotate(-90)" textLength="130.00" lengthAdjust="spacingAndGlyphs">Relative CD25 expression [MFI]</text>
<line x1="243.60" y1="514.00" x2="243.60" y2="588.00" stroke="#111" stroke-width="1.15" stroke-linecap="butt"/>
<line x1="239.10" y1="514.00" x2="248.10" y2="514.00" stroke="#111" stroke-width="1.15" stroke-linecap="butt"/>
<line x1="239.10" y1="588.00" x2="248.10" y2="588.00" stroke="#111" stroke-width="1.15" stroke-linecap="butt"/>
<circle cx="239.30" cy="521.70" r="5.20" fill="none" stroke="#111" stroke-width="1.25"/>
<circle cx="251.40" cy="518.30" r="5.20" fill="none" stroke="#111" stroke-width="1.25"/>
<circle cx="236.10" cy="549.70" r="5.20" fill="none" stroke="#111" stroke-width="1.25"/>
<circle cx="248.00" cy="554.90" r="5.20" fill="none" stroke="#111" stroke-width="1.25"/>
<circle cx="243.60" cy="610.30" r="5.20" fill="none" stroke="#111" stroke-width="1.25"/>
<line x1="268.70" y1="557.20" x2="268.70" y2="586.00" stroke="#111" stroke-width="1.15" stroke-linecap="butt"/>
<line x1="264.20" y1="557.20" x2="273.20" y2="557.20" stroke="#111" stroke-width="1.15" stroke-linecap="butt"/>
<rect x="263.40" y="536.70" width="10.60" height="10.60" fill="#111" stroke="none" stroke-width="1"/>
<rect x="263.40" y="569.20" width="10.60" height="10.60" fill="#111" stroke="none" stroke-width="1"/>
<rect x="263.70" y="591.70" width="10.60" height="10.60" fill="#111" stroke="none" stroke-width="1"/>
<rect x="264.00" y="598.70" width="10.60" height="10.60" fill="#111" stroke="none" stroke-width="1"/>
<rect x="263.50" y="605.20" width="10.60" height="10.60" fill="#111" stroke="none" stroke-width="1"/>
<polygon points="293.80,618.50 299.70,628.80 287.90,628.80" fill="#111"/>
<polygon points="294.30,621.80 300.00,631.80 288.60,631.80" fill="#111"/>
<polygon points="293.90,630.60 299.80,641.20 288.00,641.20" fill="#111"/>
<line x1="204.80" y1="633.30" x2="309.70" y2="633.30" stroke="#111" stroke-width="1.9" stroke-dasharray="4.7 3.7" stroke-linecap="butt"/>
<circle cx="218.50" cy="633.40" r="4.70" fill="#111" stroke="#111" stroke-width="0.5"/>
<polyline points="268.70,521.70 268.70,510.20 297.00,510.20 297.00,596.70" fill="none" stroke="#111" stroke-width="1.1" stroke-linejoin="miter"/>
<text x="282.52" y="508.64" font-size="9.3" text-anchor="middle" fill="#262626" stroke="#262626" style="stroke-width:0.4px" letter-spacing="0.45">**</text>
<text x="223.20" y="665.50" font-size="8.8" text-anchor="end" fill="#262626" stroke="#262626" transform="rotate(-45 223.20 665.50)">IL2-NK DMSO</text>
<text x="248.50" y="665.50" font-size="8.8" text-anchor="end" fill="#262626" stroke="#262626" transform="rotate(-45 248.50 665.50)">DMSO</text>
<text x="274.00" y="665.50" font-size="8.8" text-anchor="end" fill="#262626" stroke="#262626" transform="rotate(-45 274.00 665.50)">Torin-1</text>
<text x="299.20" y="665.50" font-size="8.8" text-anchor="end" fill="#262626" stroke="#262626" transform="rotate(-45 299.20 665.50)">Torin-1 + STAT5i</text>
<line x1="210.20" y1="714.30" x2="294.20" y2="714.30" stroke="#333" stroke-width="1.1" stroke-linecap="butt"/>
<text x="252.20" y="728.26" font-size="10.5" text-anchor="middle" fill="#262626" stroke="#262626" textLength="37.50" lengthAdjust="spacingAndGlyphs">IL-15-NK</text>
</g>
<g id="panelD">
<text x="325.30" y="472.80" font-size="13" text-anchor="start" font-weight="bold" fill="#111" stroke="#111">D</text>
<rect x="384.10" y="535.80" width="22.20" height="118.80" fill="#cfcfcf" stroke="none" stroke-width="1"/>
<rect x="417.90" y="540.70" width="22.20" height="113.90" fill="#505050" stroke="none" stroke-width="1"/>
<rect x="451.00" y="566.60" width="22.50" height="88.00" fill="#8c8c8c" stroke="none" stroke-width="1"/>
<line x1="378.40" y1="500.30" x2="378.40" y2="655.20" stroke="#333" stroke-width="1.2" stroke-linecap="butt"/>
<line x1="375.40" y1="654.60" x2="482.80" y2="654.60" stroke="#333" stroke-width="1.2" stroke-linecap="butt"/>
<text x="371.60" y="657.75" font-size="8.8" text-anchor="end" fill="#262626" stroke="#262626">0</text>
<line x1="375.10" y1="632.97" x2="378.40" y2="632.97" stroke="#333" stroke-width="1.1" stroke-linecap="butt"/>
<text x="371.60" y="636.12" font-size="8.8" text-anchor="end" fill="#262626" stroke="#262626">200</text>
<line x1="375.10" y1="611.34" x2="378.40" y2="611.34" stroke="#333" stroke-width="1.1" stroke-linecap="butt"/>
<text x="371.60" y="614.49" font-size="8.8" text-anchor="end" fill="#262626" stroke="#262626">400</text>
<line x1="375.10" y1="589.71" x2="378.40" y2="589.71" stroke="#333" stroke-width="1.1" stroke-linecap="butt"/>
<text x="371.60" y="592.86" font-size="8.8" text-anchor="end" fill="#262626" stroke="#262626">600</text>
<line x1="375.10" y1="568.08" x2="378.40" y2="568.08" stroke="#333" stroke-width="1.1" stroke-linecap="butt"/>
<text x="371.60" y="571.23" font-size="8.8" text-anchor="end" fill="#262626" stroke="#262626">800</text>
<line x1="375.10" y1="546.45" x2="378.40" y2="546.45" stroke="#333" stroke-width="1.1" stroke-linecap="butt"/>
<text x="371.60" y="549.60" font-size="8.8" text-anchor="end" fill="#262626" stroke="#262626">1000</text>
<line x1="375.10" y1="524.82" x2="378.40" y2="524.82" stroke="#333" stroke-width="1.1" stroke-linecap="butt"/>
<text x="371.60" y="527.97" font-size="8.8" text-anchor="end" fill="#262626" stroke="#262626">1200</text>
<line x1="375.10" y1="503.19" x2="378.40" y2="503.19" stroke="#333" stroke-width="1.1" stroke-linecap="butt"/>
<text x="371.60" y="506.34" font-size="8.8" text-anchor="end" fill="#262626" stroke="#262626">1400</text>
<line x1="395.20" y1="654.60" x2="395.20" y2="657.60" stroke="#333" stroke-width="1.1" stroke-linecap="butt"/>
<line x1="429.00" y1="654.60" x2="429.00" y2="657.60" stroke="#333" stroke-width="1.1" stroke-linecap="butt"/>
<line x1="462.30" y1="654.60" x2="462.30" y2="657.60" stroke="#333" stroke-width="1.1" stroke-linecap="butt"/>
<text x="0" y="0" font-size="10.3" text-anchor="middle" fill="#262626" stroke="#262626" transform="translate(346.70 577.40) rotate(-90)" textLength="93.20" lengthAdjust="spacingAndGlyphs">Bcl-2 expression [MFI]</text>
<text x="431.30" y="482.17" font-size="10.25" text-anchor="middle" fill="#262626" stroke="#262626">IL-15 NK</text>
<line x1="395.20" y1="522.00" x2="395.20" y2="550.00" stroke="#111" stroke-width="1.15" stroke-linecap="butt"/>
<line x1="391.20" y1="522.00" x2="399.20" y2="522.00" stroke="#111" stroke-width="1.15" stroke-linecap="butt"/>
<line x1="391.20" y1="550.00" x2="399.20" y2="550.00" stroke="#111" stroke-width="1.15" stroke-linecap="butt"/>
<circle cx="390.50" cy="521.00" r="5.00" fill="none" stroke="#111" stroke-width="1.3"/>
<circle cx="401.40" cy="522.00" r="5.00" fill="none" stroke="#111" stroke-width="1.3"/>
<circle cx="392.00" cy="539.20" r="5.00" fill="none" stroke="#111" stroke-width="1.3"/>
<circle cx="399.10" cy="547.30" r="5.00" fill="none" stroke="#111" stroke-width="1.3"/>
<circle cx="394.80" cy="550.80" r="5.00" fill="none" stroke="#111" stroke-width="1.3"/>
<line x1="428.60" y1="525.00" x2="428.60" y2="556.00" stroke="#111" stroke-width="1.15" stroke-linecap="butt"/>
<line x1="424.60" y1="525.00" x2="432.60" y2="525.00" stroke="#111" stroke-width="1.15" stroke-linecap="butt"/>
<line x1="424.60" y1="556.00" x2="432.60" y2="556.00" stroke="#111" stroke-width="1.15" stroke-linecap="butt"/>
<rect x="418.35" y="520.35" width="10.30" height="10.30" fill="#111" stroke="none" stroke-width="1"/>
<rect x="429.45" y="520.55" width="10.30" height="10.30" fill="#111" stroke="none" stroke-width="1"/>
<rect x="419.95" y="541.25" width="10.30" height="10.30" fill="#111" stroke="none" stroke-width="1"/>
<rect x="427.15" y="542.75" width="10.30" height="10.30" fill="#111" stroke="none" stroke-width="1"/>
<rect x="422.85" y="548.45" width="10.30" height="10.30" fill="#111" stroke="none" stroke-width="1"/>
<line x1="462.30" y1="550.00" x2="462.30" y2="580.00" stroke="#111" stroke-width="1.15" stroke-linecap="butt"/>
<line x1="458.30" y1="580.00" x2="466.30" y2="580.00" stroke="#111" stroke-width="1.15" stroke-linecap="butt"/>
<polygon points="462.40,548.20 467.65,557.60 457.15,557.60" fill="#111"/>
<polygon points="469.80,558.00 475.05,566.60 464.55,566.60" fill="#111"/>
<polygon points="454.50,564.60 459.75,573.30 449.25,573.30" fill="#111"/>
<polygon points="465.50,566.60 470.75,574.60 460.25,574.60" fill="#111"/>
<polygon points="459.70,571.00 464.95,580.20 454.45,580.20" fill="#111"/>
<polyline points="428.00,514.70 428.00,496.00 464.60,496.00 464.60,543.50" fill="none" stroke="#111" stroke-width="1.1" stroke-linejoin="miter"/>
<text x="446.60" y="495.64" font-size="9.3" text-anchor="middle" fill="#262626" stroke="#262626" style="stroke-width:0.4px">*</text>
<text x="399.80" y="665.20" font-size="9.3" text-anchor="end" fill="#262626" stroke="#262626" transform="rotate(-45 399.80 665.20)">DMSO</text>
<text x="433.60" y="665.20" font-size="9.3" text-anchor="end" fill="#262626" stroke="#262626" transform="rotate(-45 433.60 665.20)">Torin-1</text>
<text x="466.90" y="665.20" font-size="9.3" text-anchor="end" fill="#262626" stroke="#262626" transform="rotate(-45 466.90 665.20)">Torin-1 + STAT5i</text>
</g>
<g id="panelE">
<text x="23.60" y="758.50" font-size="13" text-anchor="start" font-weight="bold" fill="#111" stroke="#111">E</text>
<text x="266.60" y="774.63" font-size="10.7" text-anchor="middle" fill="#262626" stroke="#262626" textLength="40.00" lengthAdjust="spacingAndGlyphs">IL15-NK</text>
<defs><clipPath id="clipL"><rect x="60" y="780" width="215" height="176.7"/></clipPath><clipPath id="clipR"><rect x="296" y="780" width="215" height="176.9"/></clipPath></defs>
<text x="111.20" y="793.05" font-size="8.8" text-anchor="middle" fill="#262626" stroke="#262626" textLength="16.80" lengthAdjust="spacingAndGlyphs">Gluc</text>
<text x="147.10" y="793.05" font-size="8.8" text-anchor="middle" fill="#262626" stroke="#262626" textLength="18.90" lengthAdjust="spacingAndGlyphs">Oligo</text>
<text x="185.10" y="793.05" font-size="8.8" text-anchor="middle" fill="#262626" stroke="#262626" textLength="21.70" lengthAdjust="spacingAndGlyphs">FCCP</text>
<text x="221.90" y="793.05" font-size="8.8" text-anchor="middle" fill="#262626" stroke="#262626" textLength="31.80" lengthAdjust="spacingAndGlyphs">Anti+Rot</text>
<line x1="111.50" y1="800.60" x2="111.50" y2="956.00" stroke="#111" stroke-width="1.0" stroke-dasharray="3.6 2.4" stroke-linecap="butt"/>
<line x1="146.50" y1="800.60" x2="146.50" y2="956.00" stroke="#111" stroke-width="1.0" stroke-dasharray="3.6 2.4" stroke-linecap="butt"/>
<line x1="184.50" y1="800.60" x2="184.50" y2="956.00" stroke="#111" stroke-width="1.0" stroke-dasharray="3.6 2.4" stroke-linecap="butt"/>
<line x1="221.50" y1="800.60" x2="221.50" y2="956.00" stroke="#111" stroke-width="1.0" stroke-dasharray="3.6 2.4" stroke-linecap="butt"/>
<g clip-path="url(#clipL)">
<line x1="83.00" y1="836.50" x2="83.00" y2="848.50" stroke="#111" stroke-width="1.15" stroke-linecap="butt"/>
<line x1="77.25" y1="836.50" x2="88.75" y2="836.50" stroke="#111" stroke-width="1.15" stroke-linecap="butt"/>
<line x1="101.53" y1="850.00" x2="101.53" y2="856.25" stroke="#111" stroke-width="1.15" stroke-linecap="butt"/>
<line x1="95.78" y1="850.00" x2="107.28" y2="850.00" stroke="#111" stroke-width="1.15" stroke-linecap="butt"/>
<line x1="120.06" y1="888.00" x2="120.06" y2="894.10" stroke="#111" stroke-width="1.15" stroke-linecap="butt"/>
<line x1="114.31" y1="888.00" x2="125.81" y2="888.00" stroke="#111" stroke-width="1.15" stroke-linecap="butt"/>
<line x1="138.59" y1="886.00" x2="138.59" y2="892.00" stroke="#111" stroke-width="1.15" stroke-linecap="butt"/>
<line x1="132.84" y1="886.00" x2="144.34" y2="886.00" stroke="#111" stroke-width="1.15" stroke-linecap="butt"/>
<line x1="157.12" y1="942.30" x2="157.12" y2="948.50" stroke="#111" stroke-width="1.15" stroke-linecap="butt"/>
<line x1="151.37" y1="942.30" x2="162.87" y2="942.30" stroke="#111" stroke-width="1.15" stroke-linecap="butt"/>
<line x1="175.65" y1="941.50" x2="175.65" y2="948.50" stroke="#111" stroke-width="1.15" stroke-linecap="butt"/>
<line x1="169.90" y1="941.50" x2="181.40" y2="941.50" stroke="#111" stroke-width="1.15" stroke-linecap="butt"/>
<line x1="194.18" y1="818.00" x2="194.18" y2="837.75" stroke="#111" stroke-width="1.15" stroke-linecap="butt"/>
<line x1="188.43" y1="818.00" x2="199.93" y2="818.00" stroke="#111" stroke-width="1.15" stroke-linecap="butt"/>
<line x1="212.71" y1="837.00" x2="212.71" y2="849.00" stroke="#111" stroke-width="1.15" stroke-linecap="butt"/>
<line x1="206.96" y1="837.00" x2="218.46" y2="837.00" stroke="#111" stroke-width="1.15" stroke-linecap="butt"/>
<line x1="231.24" y1="947.20" x2="231.24" y2="954.00" stroke="#111" stroke-width="1.15" stroke-linecap="butt"/>
<line x1="225.49" y1="947.20" x2="236.99" y2="947.20" stroke="#111" stroke-width="1.15" stroke-linecap="butt"/>
<line x1="249.77" y1="947.20" x2="249.77" y2="954.00" stroke="#111" stroke-width="1.15" stroke-linecap="butt"/>
<line x1="244.02" y1="947.20" x2="255.52" y2="947.20" stroke="#111" stroke-width="1.15" stroke-linecap="butt"/>
<polyline points="83.00,848.50 101.53,856.25 120.06,894.10 138.59,892.00 157.12,948.50 175.65,948.50 194.18,837.75 212.71,849.00 231.24,954.00 249.77,954.00" fill="none" stroke="#111" stroke-width="1.4" stroke-linejoin="miter"/>
<rect x="76.75" y="842.25" width="12.50" height="12.50" fill="none" stroke="#111" stroke-width="1.1"/>
<rect x="95.28" y="850.00" width="12.50" height="12.50" fill="none" stroke="#111" stroke-width="1.1"/>
<rect x="113.81" y="887.85" width="12.50" height="12.50" fill="none" stroke="#111" stroke-width="1.1"/>
<rect x="132.34" y="885.75" width="12.50" height="12.50" fill="none" stroke="#111" stroke-width="1.1"/>
<rect x="150.87" y="942.25" width="12.50" height="12.50" fill="none" stroke="#111" stroke-width="1.1"/>
<rect x="169.40" y="942.25" width="12.50" height="12.50" fill="none" stroke="#111" stroke-width="1.1"/>
<rect x="187.93" y="831.50" width="12.50" height="12.50" fill="none" stroke="#111" stroke-width="1.1"/>
<rect x="206.46" y="842.75" width="12.50" height="12.50" fill="none" stroke="#111" stroke-width="1.1"/>
<rect x="224.99" y="947.75" width="12.50" height="12.50" fill="none" stroke="#111" stroke-width="1.1"/>
<rect x="243.52" y="947.75" width="12.50" height="12.50" fill="none" stroke="#111" stroke-width="1.1"/>
<line x1="101.53" y1="898.90" x2="101.53" y2="909.00" stroke="#111" stroke-width="1.15" stroke-linecap="butt"/>
<line x1="95.78" y1="898.90" x2="107.28" y2="898.90" stroke="#111" stroke-width="1.15" stroke-linecap="butt"/>
<line x1="120.06" y1="918.40" x2="120.06" y2="926.50" stroke="#111" stroke-width="1.15" stroke-linecap="butt"/>
<line x1="114.31" y1="918.40" x2="125.81" y2="918.40" stroke="#111" stroke-width="1.15" stroke-linecap="butt"/>
<line x1="138.59" y1="920.70" x2="138.59" y2="928.80" stroke="#111" stroke-width="1.15" stroke-linecap="butt"/>
<line x1="132.84" y1="920.70" x2="144.34" y2="920.70" stroke="#111" stroke-width="1.15" stroke-linecap="butt"/>
<line x1="194.18" y1="901.75" x2="194.18" y2="912.30" stroke="#111" stroke-width="1.15" stroke-linecap="butt"/>
<line x1="188.43" y1="901.75" x2="199.93" y2="901.75" stroke="#111" stroke-width="1.15" stroke-linecap="butt"/>
<line x1="212.71" y1="909.50" x2="212.71" y2="916.40" stroke="#111" stroke-width="1.15" stroke-linecap="butt"/>
<line x1="206.96" y1="909.50" x2="218.46" y2="909.50" stroke="#111" stroke-width="1.15" stroke-linecap="butt"/>
<polyline points="83.00,915.40 101.53,916.00 120.06,933.50 138.59,935.80 157.12,956.00 175.65,955.20 194.18,919.30 212.71,923.40 231.24,955.20 249.77,955.20" fill="none" stroke="#111" stroke-width="1.0" stroke-dasharray="1.1 1.2" stroke-linejoin="miter"/>
<circle cx="83.00" cy="915.40" r="7.30" fill="none" stroke="#111" stroke-width="1.2"/>
<circle cx="101.53" cy="916.00" r="7.30" fill="none" stroke="#111" stroke-width="1.2"/>
<circle cx="120.06" cy="933.50" r="7.30" fill="none" stroke="#111" stroke-width="1.2"/>
<circle cx="138.59" cy="935.80" r="7.30" fill="none" stroke="#111" stroke-width="1.2"/>
<circle cx="157.12" cy="956.00" r="7.30" fill="none" stroke="#111" stroke-width="1.2"/>
<circle cx="175.65" cy="955.20" r="7.30" fill="none" stroke="#111" stroke-width="1.2"/>
<circle cx="194.18" cy="919.30" r="7.30" fill="none" stroke="#111" stroke-width="1.2"/>
<circle cx="212.71" cy="923.40" r="7.30" fill="none" stroke="#111" stroke-width="1.2"/>
<circle cx="231.24" cy="955.20" r="7.30" fill="none" stroke="#111" stroke-width="1.2"/>
<circle cx="249.77" cy="955.20" r="7.30" fill="none" stroke="#111" stroke-width="1.2"/>
<line x1="83.00" y1="900.00" x2="83.00" y2="911.00" stroke="#111" stroke-width="1.15" stroke-linecap="butt"/>
<line x1="77.25" y1="900.00" x2="88.75" y2="900.00" stroke="#111" stroke-width="1.15" stroke-linecap="butt"/>
<polyline points="83.00,911.00 101.53,924.10 120.06,940.00 138.59,941.20 157.12,955.10 175.65,954.50 194.18,922.50 212.71,931.80 231.24,954.00 249.77,954.00" fill="none" stroke="#111" stroke-width="1.5" stroke-dasharray="3.7 1.6" stroke-linejoin="miter"/>
<rect x="77.20" y="905.20" width="11.60" height="11.60" fill="#111" stroke="none" stroke-width="1"/>
<rect x="95.73" y="918.30" width="11.60" height="11.60" fill="#111" stroke="none" stroke-width="1"/>
<rect x="114.26" y="934.20" width="11.60" height="11.60" fill="#111" stroke="none" stroke-width="1"/>
<rect x="132.79" y="935.40" width="11.60" height="11.60" fill="#111" stroke="none" stroke-width="1"/>
<rect x="151.32" y="949.30" width="11.60" height="11.60" fill="#111" stroke="none" stroke-width="1"/>
<rect x="169.85" y="948.70" width="11.60" height="11.60" fill="#111" stroke="none" stroke-width="1"/>
<rect x="188.38" y="916.70" width="11.60" height="11.60" fill="#111" stroke="none" stroke-width="1"/>
<rect x="206.91" y="926.00" width="11.60" height="11.60" fill="#111" stroke="none" stroke-width="1"/>
<rect x="225.44" y="948.20" width="11.60" height="11.60" fill="#111" stroke="none" stroke-width="1"/>
<rect x="243.97" y="948.20" width="11.60" height="11.60" fill="#111" stroke="none" stroke-width="1"/>
</g>
<line x1="74.00" y1="800.60" x2="74.00" y2="956.60" stroke="#333" stroke-width="1.2" stroke-linecap="butt"/>
<line x1="71.00" y1="956.00" x2="260.50" y2="956.00" stroke="#333" stroke-width="1.2" stroke-linecap="butt"/>
<text x="67.60" y="959.29" font-size="9.2" text-anchor="end" fill="#262626" stroke="#262626">0</text>
<line x1="71.00" y1="928.00" x2="74.00" y2="928.00" stroke="#333" stroke-width="1.1" stroke-linecap="butt"/>
<text x="67.60" y="931.29" font-size="9.2" text-anchor="end" fill="#262626" stroke="#262626">40</text>
<line x1="71.00" y1="900.00" x2="74.00" y2="900.00" stroke="#333" stroke-width="1.1" stroke-linecap="butt"/>
<text x="67.60" y="903.29" font-size="9.2" text-anchor="end" fill="#262626" stroke="#262626">80</text>
<line x1="71.00" y1="872.00" x2="74.00" y2="872.00" stroke="#333" stroke-width="1.1" stroke-linecap="butt"/>
<text x="67.60" y="875.29" font-size="9.2" text-anchor="end" fill="#262626" stroke="#262626">120</text>
<line x1="71.00" y1="844.00" x2="74.00" y2="844.00" stroke="#333" stroke-width="1.1" stroke-linecap="butt"/>
<text x="67.60" y="847.29" font-size="9.2" text-anchor="end" fill="#262626" stroke="#262626">160</text>
<line x1="71.00" y1="816.00" x2="74.00" y2="816.00" stroke="#333" stroke-width="1.1" stroke-linecap="butt"/>
<text x="67.60" y="819.29" font-size="9.2" text-anchor="end" fill="#262626" stroke="#262626">200</text>
<line x1="83.00" y1="956.00" x2="83.00" y2="959.00" stroke="#333" stroke-width="1.1" stroke-linecap="butt"/>
<line x1="101.53" y1="956.00" x2="101.53" y2="959.00" stroke="#333" stroke-width="1.1" stroke-linecap="butt"/>
<line x1="120.06" y1="956.00" x2="120.06" y2="959.00" stroke="#333" stroke-width="1.1" stroke-linecap="butt"/>
<line x1="138.59" y1="956.00" x2="138.59" y2="959.00" stroke="#333" stroke-width="1.1" stroke-linecap="butt"/>
<line x1="157.12" y1="956.00" x2="157.12" y2="959.00" stroke="#333" stroke-width="1.1" stroke-linecap="butt"/>
<line x1="175.65" y1="956.00" x2="175.65" y2="959.00" stroke="#333" stroke-width="1.1" stroke-linecap="butt"/>
<line x1="194.18" y1="956.00" x2="194.18" y2="959.00" stroke="#333" stroke-width="1.1" stroke-linecap="butt"/>
<line x1="212.71" y1="956.00" x2="212.71" y2="959.00" stroke="#333" stroke-width="1.1" stroke-linecap="butt"/>
<line x1="231.24" y1="956.00" x2="231.24" y2="959.00" stroke="#333" stroke-width="1.1" stroke-linecap="butt"/>
<line x1="249.77" y1="956.00" x2="249.77" y2="959.00" stroke="#333" stroke-width="1.1" stroke-linecap="butt"/>
<text x="83.00" y="972.35" font-size="8.8" text-anchor="middle" fill="#262626" stroke="#262626">0</text>
<text x="120.06" y="972.35" font-size="8.8" text-anchor="middle" fill="#262626" stroke="#262626">15</text>
<text x="175.65" y="972.35" font-size="8.8" text-anchor="middle" fill="#262626" stroke="#262626">30</text>
<text x="231.24" y="972.35" font-size="8.8" text-anchor="middle" fill="#262626" stroke="#262626">50</text>
<text x="0" y="0" font-size="10.4" text-anchor="middle" fill="#262626" stroke="#262626" transform="translate(45.40 878.30) rotate(-90)" textLength="70.40" lengthAdjust="spacingAndGlyphs">OCR (pMol/min)</text>
<text x="167.25" y="986.26" font-size="10.5" text-anchor="middle" fill="#262626" stroke="#262626" textLength="64.20" lengthAdjust="spacingAndGlyphs">Time (minutes)</text>
<text x="348.00" y="793.05" font-size="8.8" text-anchor="middle" fill="#262626" stroke="#262626" textLength="16.80" lengthAdjust="spacingAndGlyphs">Gluc</text>
<text x="382.90" y="793.05" font-size="8.8" text-anchor="middle" fill="#262626" stroke="#262626" textLength="18.90" lengthAdjust="spacingAndGlyphs">Oligo</text>
<text x="421.30" y="793.05" font-size="8.8" text-anchor="middle" fill="#262626" stroke="#262626" textLength="21.70" lengthAdjust="spacingAndGlyphs">FCCP</text>
<text x="457.60" y="793.05" font-size="8.8" text-anchor="middle" fill="#262626" stroke="#262626" textLength="31.80" lengthAdjust="spacingAndGlyphs">Anti+Rot</text>
<line x1="348.50" y1="799.00" x2="348.50" y2="956.25" stroke="#111" stroke-width="1.0" stroke-dasharray="3.6 2.4" stroke-linecap="butt"/>
<line x1="384.50" y1="799.00" x2="384.50" y2="956.25" stroke="#111" stroke-width="1.0" stroke-dasharray="3.6 2.4" stroke-linecap="butt"/>
<line x1="421.50" y1="799.00" x2="421.50" y2="956.25" stroke="#111" stroke-width="1.0" stroke-dasharray="3.6 2.4" stroke-linecap="butt"/>
<line x1="457.50" y1="799.00" x2="457.50" y2="956.25" stroke="#111" stroke-width="1.0" stroke-dasharray="3.6 2.4" stroke-linecap="butt"/>
<g clip-path="url(#clipR)">
<line x1="356.46" y1="929.25" x2="356.46" y2="942.00" stroke="#111" stroke-width="1.15" stroke-linecap="butt"/>
<line x1="350.71" y1="929.25" x2="362.21" y2="929.25" stroke="#111" stroke-width="1.15" stroke-linecap="butt"/>
<line x1="374.94" y1="902.50" x2="374.94" y2="913.75" stroke="#111" stroke-width="1.15" stroke-linecap="butt"/>
<line x1="369.19" y1="902.50" x2="380.69" y2="902.50" stroke="#111" stroke-width="1.15" stroke-linecap="butt"/>
<line x1="393.42" y1="836.75" x2="393.42" y2="853.50" stroke="#111" stroke-width="1.15" stroke-linecap="butt"/>
<line x1="387.67" y1="836.75" x2="399.17" y2="836.75" stroke="#111" stroke-width="1.15" stroke-linecap="butt"/>
<line x1="411.90" y1="835.50" x2="411.90" y2="854.75" stroke="#111" stroke-width="1.15" stroke-linecap="butt"/>
<line x1="406.15" y1="835.50" x2="417.65" y2="835.50" stroke="#111" stroke-width="1.15" stroke-linecap="butt"/>
<line x1="430.38" y1="829.25" x2="430.38" y2="849.50" stroke="#111" stroke-width="1.15" stroke-linecap="butt"/>
<line x1="424.63" y1="829.25" x2="436.13" y2="829.25" stroke="#111" stroke-width="1.15" stroke-linecap="butt"/>
<line x1="448.86" y1="834.50" x2="448.86" y2="854.75" stroke="#111" stroke-width="1.15" stroke-linecap="butt"/>
<line x1="443.11" y1="834.50" x2="454.61" y2="834.50" stroke="#111" stroke-width="1.15" stroke-linecap="butt"/>
<line x1="467.34" y1="867.50" x2="467.34" y2="888.25" stroke="#111" stroke-width="1.15" stroke-linecap="butt"/>
<line x1="461.59" y1="867.50" x2="473.09" y2="867.50" stroke="#111" stroke-width="1.15" stroke-linecap="butt"/>
<line x1="485.82" y1="860.75" x2="485.82" y2="880.50" stroke="#111" stroke-width="1.15" stroke-linecap="butt"/>
<line x1="480.07" y1="860.75" x2="491.57" y2="860.75" stroke="#111" stroke-width="1.15" stroke-linecap="butt"/>
<polyline points="319.50,936.60 337.98,942.00 356.46,942.00 374.94,913.75 393.42,853.50 411.90,854.75 430.38,849.50 448.86,854.75 467.34,888.25 485.82,880.50" fill="none" stroke="#111" stroke-width="1.4" stroke-linejoin="miter"/>
<rect x="313.25" y="930.35" width="12.50" height="12.50" fill="none" stroke="#111" stroke-width="1.1"/>
<rect x="331.73" y="935.75" width="12.50" height="12.50" fill="none" stroke="#111" stroke-width="1.1"/>
<rect x="350.21" y="935.75" width="12.50" height="12.50" fill="none" stroke="#111" stroke-width="1.1"/>
<rect x="368.69" y="907.50" width="12.50" height="12.50" fill="none" stroke="#111" stroke-width="1.1"/>
<rect x="387.17" y="847.25" width="12.50" height="12.50" fill="none" stroke="#111" stroke-width="1.1"/>
<rect x="405.65" y="848.50" width="12.50" height="12.50" fill="none" stroke="#111" stroke-width="1.1"/>
<rect x="424.13" y="843.25" width="12.50" height="12.50" fill="none" stroke="#111" stroke-width="1.1"/>
<rect x="442.61" y="848.50" width="12.50" height="12.50" fill="none" stroke="#111" stroke-width="1.1"/>
<rect x="461.09" y="882.00" width="12.50" height="12.50" fill="none" stroke="#111" stroke-width="1.1"/>
<rect x="479.57" y="874.25" width="12.50" height="12.50" fill="none" stroke="#111" stroke-width="1.1"/>
<polyline points="319.50,949.40 337.98,953.30 356.46,956.30 374.94,960.00 393.42,923.75 411.90,923.75 430.38,912.50 448.86,920.50 467.34,935.50 485.82,935.00" fill="none" stroke="#111" stroke-width="1.0" stroke-dasharray="1.1 1.2" stroke-linejoin="miter"/>
<circle cx="319.50" cy="949.40" r="7.30" fill="none" stroke="#111" stroke-width="1.2"/>
<circle cx="337.98" cy="953.30" r="7.30" fill="none" stroke="#111" stroke-width="1.2"/>
<circle cx="356.46" cy="956.30" r="7.30" fill="none" stroke="#111" stroke-width="1.2"/>
<circle cx="374.94" cy="960.00" r="7.30" fill="none" stroke="#111" stroke-width="1.2"/>
<circle cx="393.42" cy="923.75" r="7.30" fill="none" stroke="#111" stroke-width="1.2"/>
<circle cx="411.90" cy="923.75" r="7.30" fill="none" stroke="#111" stroke-width="1.2"/>
<circle cx="430.38" cy="912.50" r="7.30" fill="none" stroke="#111" stroke-width="1.2"/>
<circle cx="448.86" cy="920.50" r="7.30" fill="none" stroke="#111" stroke-width="1.2"/>
<circle cx="467.34" cy="935.50" r="7.30" fill="none" stroke="#111" stroke-width="1.2"/>
<circle cx="485.82" cy="935.00" r="7.30" fill="none" stroke="#111" stroke-width="1.2"/>
<line x1="374.94" y1="942.20" x2="374.94" y2="949.20" stroke="#111" stroke-width="1.15" stroke-linecap="butt"/>
<line x1="369.19" y1="942.20" x2="380.69" y2="942.20" stroke="#111" stroke-width="1.15" stroke-linecap="butt"/>
<line x1="393.42" y1="893.75" x2="393.42" y2="907.50" stroke="#111" stroke-width="1.15" stroke-linecap="butt"/>
<line x1="387.67" y1="893.75" x2="399.17" y2="893.75" stroke="#111" stroke-width="1.15" stroke-linecap="butt"/>
<line x1="411.90" y1="899.50" x2="411.90" y2="913.75" stroke="#111" stroke-width="1.15" stroke-linecap="butt"/>
<line x1="406.15" y1="899.50" x2="417.65" y2="899.50" stroke="#111" stroke-width="1.15" stroke-linecap="butt"/>
<line x1="430.38" y1="891.75" x2="430.38" y2="908.00" stroke="#111" stroke-width="1.15" stroke-linecap="butt"/>
<line x1="424.63" y1="891.75" x2="436.13" y2="891.75" stroke="#111" stroke-width="1.15" stroke-linecap="butt"/>
<line x1="448.86" y1="893.75" x2="448.86" y2="910.00" stroke="#111" stroke-width="1.15" stroke-linecap="butt"/>
<line x1="443.11" y1="893.75" x2="454.61" y2="893.75" stroke="#111" stroke-width="1.15" stroke-linecap="butt"/>
<line x1="467.34" y1="914.25" x2="467.34" y2="925.00" stroke="#111" stroke-width="1.15" stroke-linecap="butt"/>
<line x1="461.59" y1="914.25" x2="473.09" y2="914.25" stroke="#111" stroke-width="1.15" stroke-linecap="butt"/>
<line x1="485.82" y1="907.00" x2="485.82" y2="921.75" stroke="#111" stroke-width="1.15" stroke-linecap="butt"/>
<line x1="480.07" y1="907.00" x2="491.57" y2="907.00" stroke="#111" stroke-width="1.15" stroke-linecap="butt"/>
<polyline points="319.50,948.90 337.98,952.20 356.46,956.20 374.94,949.20 393.42,907.50 411.90,913.75 430.38,908.00 448.86,910.00 467.34,925.00 485.82,921.75" fill="none" stroke="#111" stroke-width="1.5" stroke-dasharray="3.7 1.6" stroke-linejoin="miter"/>
<rect x="313.70" y="943.10" width="11.60" height="11.60" fill="#111" stroke="none" stroke-width="1"/>
<rect x="332.18" y="946.40" width="11.60" height="11.60" fill="#111" stroke="none" stroke-width="1"/>
<rect x="350.66" y="950.40" width="11.60" height="11.60" fill="#111" stroke="none" stroke-width="1"/>
<rect x="369.14" y="943.40" width="11.60" height="11.60" fill="#111" stroke="none" stroke-width="1"/>
<rect x="387.62" y="901.70" width="11.60" height="11.60" fill="#111" stroke="none" stroke-width="1"/>
<rect x="406.10" y="907.95" width="11.60" height="11.60" fill="#111" stroke="none" stroke-width="1"/>
<rect x="424.58" y="902.20" width="11.60" height="11.60" fill="#111" stroke="none" stroke-width="1"/>
<rect x="443.06" y="904.20" width="11.60" height="11.60" fill="#111" stroke="none" stroke-width="1"/>
<rect x="461.54" y="919.20" width="11.60" height="11.60" fill="#111" stroke="none" stroke-width="1"/>
<rect x="480.02" y="915.95" width="11.60" height="11.60" fill="#111" stroke="none" stroke-width="1"/>
</g>
<line x1="310.50" y1="799.00" x2="310.50" y2="956.85" stroke="#333" stroke-width="1.2" stroke-linecap="butt"/>
<line x1="307.50" y1="956.25" x2="497.00" y2="956.25" stroke="#333" stroke-width="1.2" stroke-linecap="butt"/>
<text x="304.00" y="959.54" font-size="9.2" text-anchor="end" fill="#262626" stroke="#262626">0</text>
<line x1="307.50" y1="930.65" x2="310.50" y2="930.65" stroke="#333" stroke-width="1.1" stroke-linecap="butt"/>
<text x="304.00" y="933.94" font-size="9.2" text-anchor="end" fill="#262626" stroke="#262626">4</text>
<line x1="307.50" y1="905.05" x2="310.50" y2="905.05" stroke="#333" stroke-width="1.1" stroke-linecap="butt"/>
<text x="304.00" y="908.34" font-size="9.2" text-anchor="end" fill="#262626" stroke="#262626">8</text>
<line x1="307.50" y1="879.45" x2="310.50" y2="879.45" stroke="#333" stroke-width="1.1" stroke-linecap="butt"/>
<text x="304.00" y="882.74" font-size="9.2" text-anchor="end" fill="#262626" stroke="#262626">12</text>
<line x1="307.50" y1="853.85" x2="310.50" y2="853.85" stroke="#333" stroke-width="1.1" stroke-linecap="butt"/>
<text x="304.00" y="857.14" font-size="9.2" text-anchor="end" fill="#262626" stroke="#262626">16</text>
<line x1="307.50" y1="828.25" x2="310.50" y2="828.25" stroke="#333" stroke-width="1.1" stroke-linecap="butt"/>
<text x="304.00" y="831.54" font-size="9.2" text-anchor="end" fill="#262626" stroke="#262626">20</text>
<line x1="307.50" y1="802.65" x2="310.50" y2="802.65" stroke="#333" stroke-width="1.1" stroke-linecap="butt"/>
<text x="304.00" y="805.94" font-size="9.2" text-anchor="end" fill="#262626" stroke="#262626">24</text>
<line x1="319.50" y1="956.25" x2="319.50" y2="959.25" stroke="#333" stroke-width="1.1" stroke-linecap="butt"/>
<line x1="337.98" y1="956.25" x2="337.98" y2="959.25" stroke="#333" stroke-width="1.1" stroke-linecap="butt"/>
<line x1="356.46" y1="956.25" x2="356.46" y2="959.25" stroke="#333" stroke-width="1.1" stroke-linecap="butt"/>
<line x1="374.94" y1="956.25" x2="374.94" y2="959.25" stroke="#333" stroke-width="1.1" stroke-linecap="butt"/>
<line x1="393.42" y1="956.25" x2="393.42" y2="959.25" stroke="#333" stroke-width="1.1" stroke-linecap="butt"/>
<line x1="411.90" y1="956.25" x2="411.90" y2="959.25" stroke="#333" stroke-width="1.1" stroke-linecap="butt"/>
<line x1="430.38" y1="956.25" x2="430.38" y2="959.25" stroke="#333" stroke-width="1.1" stroke-linecap="butt"/>
<line x1="448.86" y1="956.25" x2="448.86" y2="959.25" stroke="#333" stroke-width="1.1" stroke-linecap="butt"/>
<line x1="467.34" y1="956.25" x2="467.34" y2="959.25" stroke="#333" stroke-width="1.1" stroke-linecap="butt"/>
<line x1="485.82" y1="956.25" x2="485.82" y2="959.25" stroke="#333" stroke-width="1.1" stroke-linecap="butt"/>
<text x="319.50" y="972.35" font-size="8.8" text-anchor="middle" fill="#262626" stroke="#262626">0</text>
<text x="356.46" y="972.35" font-size="8.8" text-anchor="middle" fill="#262626" stroke="#262626">15</text>
<text x="411.90" y="972.35" font-size="8.8" text-anchor="middle" fill="#262626" stroke="#262626">30</text>
<text x="467.34" y="972.35" font-size="8.8" text-anchor="middle" fill="#262626" stroke="#262626">50</text>
<text x="0" y="0" font-size="10.4" text-anchor="middle" fill="#262626" stroke="#262626" transform="translate(287.30 877.62) rotate(-90)" textLength="75.00" lengthAdjust="spacingAndGlyphs">ECAR (mpH/min)</text>
<text x="403.75" y="986.26" font-size="10.5" text-anchor="middle" fill="#262626" stroke="#262626" textLength="64.20" lengthAdjust="spacingAndGlyphs">Time (minutes)</text>
<line x1="145.30" y1="1000.20" x2="176.30" y2="1000.20" stroke="#111" stroke-width="1.3" stroke-linecap="butt"/>
<rect x="155.50" y="994.90" width="11.00" height="11.00" fill="#fff" stroke="#111" stroke-width="1.2"/>
<text x="182.00" y="1003.31" font-size="8.4" text-anchor="start" fill="#262626" stroke="#262626">DMSO</text>
<line x1="217.50" y1="1000.20" x2="249.80" y2="1000.20" stroke="#111" stroke-width="1.4" stroke-dasharray="3.7 1.6" stroke-linecap="butt"/>
<rect x="228.50" y="994.50" width="11.20" height="11.20" fill="#111" stroke="none" stroke-width="1"/>
<text x="253.90" y="1003.31" font-size="8.4" text-anchor="start" fill="#262626" stroke="#262626">Torin-1</text>
<line x1="290.20" y1="1000.20" x2="322.50" y2="1000.20" stroke="#111" stroke-width="1.1" stroke-dasharray="1.2 1.3" stroke-linecap="butt"/>
<circle cx="307.70" cy="1000.10" r="6.20" fill="none" stroke="#111" stroke-width="1.2"/>
<text x="328.10" y="1003.33" font-size="8.45" text-anchor="start" fill="#262626" stroke="#262626">Torin-1 + STAT5i</text>
</g>
<rect x="0.5" y="0.5" width="519" height="1014" fill="none" stroke="#484848" stroke-width="1"/>
</svg></body></html>
